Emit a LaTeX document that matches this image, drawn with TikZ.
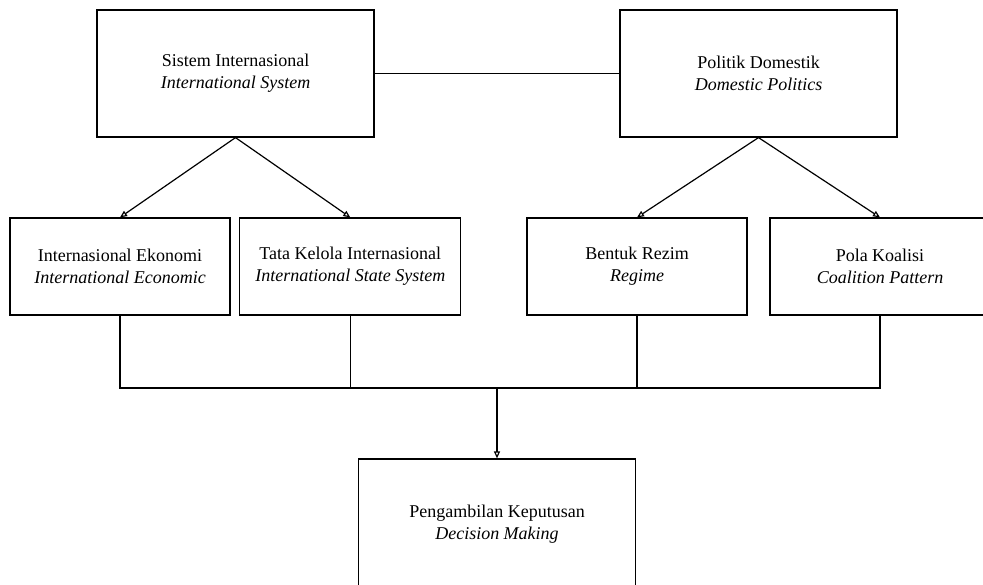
\documentclass[tikz,border=0pt]{standalone}
\usepackage{fontspec}
\setmainfont{Liberation Serif}
\usetikzlibrary{arrows.meta}
\begin{document}
\begin{tikzpicture}[x=1pt,y=-1pt,
  box/.style={draw, line width=1.2pt, rectangle, align=center, inner sep=0pt,
    font=\fontsize{18}{22}\selectfont},
  link/.style={line width=1.2pt},
  arr/.style={line width=1.2pt, -{Triangle[open,length=7pt,width=6pt]}}]
\useasboundingbox (0,0) rectangle (983,585);
\clip (0,0) rectangle (983,585);
\node[box, minimum width=277pt, minimum height=127pt] (sys) at (235.5,73.5)
  {Sistem Internasional\\\textit{International System}};
\node[box, minimum width=277pt, minimum height=127pt] (dom) at (758.5,73.5)
  {Politik Domestik\\\textit{Domestic Politics}};
\node[box, minimum width=220pt, minimum height=97pt] (ie) at (120,266.5)
  {Internasional Ekonomi\\\textit{International Economic}};
\node[box, minimum width=221pt, minimum height=97pt] (tk) at (350.3,266.5)
  {Tata Kelola Internasional\\\textit{International State System}};
\node[box, minimum width=220pt, minimum height=97pt] (br) at (637,266.5)
  {Bentuk Rezim\\\textit{Regime}};
\node[box, minimum width=220pt, minimum height=97pt] (pk) at (880,266.5)
  {Pola Koalisi\\\textit{Coalition Pattern}};
\node[box, minimum width=277pt, minimum height=131pt] (dm) at (497,524.5)
  {Pengambilan Keputusan\\\textit{Decision Making}};
\coordinate (bus) at (497,388);
\draw[link] (sys.east) -- (dom.west);
\draw[arr] (sys.south) -- (ie.north);
\draw[arr] (sys.south) -- (tk.north);
\draw[arr] (dom.south) -- (br.north);
\draw[arr] (dom.south) -- (pk.north);
\draw[link] (ie.south) |- (bus);
\draw[link] (pk.south) |- (bus);
\draw[link] (tk.south) -- (tk.south |- bus);
\draw[link] (br.south) -- (br.south |- bus);
\draw[arr] (bus) -- (dm.north);
\end{tikzpicture}
\end{document}
